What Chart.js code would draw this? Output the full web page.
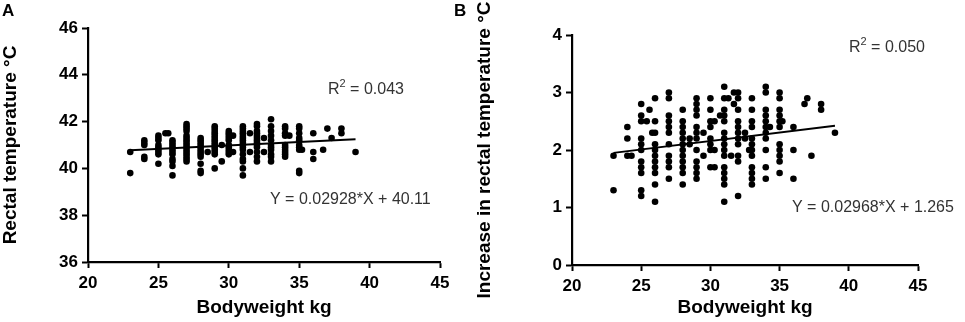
<!DOCTYPE html>
<html>
<head>
<meta charset="utf-8">
<script src="https://cdn.jsdelivr.net/npm/chart.js@4"></script>
<style>
  body { margin: 0; background: #fff; }
  #wrap { position: relative; width: 965px; height: 322px; overflow: hidden; }
  canvas { position: absolute; top: 0; }
  .tag { position: absolute; top: 2px; font: bold 17px "Liberation Sans", Arial, sans-serif; line-height: 17px; color: #000; }
</style>
</head>
<body>
<div id="wrap">
  <canvas id="chartA" width="465" height="322" style="left:0"></canvas>
  <canvas id="chartB" width="500" height="322" style="left:465px"></canvas>
  <div class="tag" style="left:2px">A</div>
  <div class="tag" style="left:454px">B</div>
</div>
<script>
// panel A: bodyweight (kg) columns and rectal temperature readings at each
const weightsA = [23, 24, 25, 25.5, 25.7, 26, 27, 28, 28.5, 29, 29.5, 30, 30.3, 31, 31.5, 32, 32.5, 33, 34, 34.3, 35, 35.2, 36, 36.7, 37, 37.3, 38, 39];
const tempsA = [
  [40.7, 39.8],
  [41.2, 41.1, 41.0, 40.5, 40.4],
  [41.4, 41.3, 41.2, 41.0, 40.9, 40.8, 40.7, 40.6, 40.2],
  [41.5],
  [41.5],
  [41.2, 41.1, 41.0, 40.9, 40.8, 40.7, 40.6, 40.4, 40.3, 40.1, 39.7],
  [41.9, 41.8, 41.7, 41.6, 41.4, 41.3, 41.2, 41.1, 41.0, 40.9, 40.8, 40.7, 40.6, 40.5, 40.4, 40.3],
  [41.3, 41.2, 41.1, 41.0, 40.9, 40.8, 40.7, 40.6, 40.5, 40.2, 39.9, 39.8],
  [40.7],
  [41.8, 41.7, 41.6, 41.5, 41.4, 41.3, 41.2, 41.1, 41.0, 40.9, 40.8, 40.7, 40.6, 40.0],
  [41.0, 40.3],
  [41.6, 41.5, 41.4, 41.3, 41.2, 41.0, 40.9, 40.8, 40.7, 40.6],
  [41.4, 40.7],
  [41.8, 41.7, 41.6, 41.5, 41.4, 41.3, 41.2, 41.1, 41.0, 40.9, 40.8, 40.6, 40.4, 40.3, 40.0, 39.7],
  [41.5, 40.7],
  [41.9, 41.8, 41.6, 41.5, 41.4, 41.3, 41.2, 41.1, 41.0, 40.9, 40.7, 40.5, 40.3],
  [41.3, 40.7],
  [42.1, 41.8, 41.6, 41.4, 41.2, 41.0, 40.9, 40.8, 40.6, 40.5, 40.3],
  [41.8, 41.7, 41.5, 41.4, 41.0, 40.9, 40.8, 40.7, 40.6, 40.5],
  [41.4],
  [41.8, 41.7, 41.5, 41.3, 41.2, 41.0, 40.9, 40.8, 39.9, 39.8],
  [40.8],
  [41.5, 40.7, 40.4],
  [40.8],
  [41.7],
  [41.3],
  [41.7, 41.5],
  [40.7]
];
const fitXA = [23, 39];
const fitYA = [40.78, 41.25];

// panel B: bodyweight (kg) columns and increase in rectal temperature
const weightsB = [23, 24, 24.3, 25, 25.4, 25.6, 25.8, 26, 27, 28, 28.5, 29, 29.5, 30, 30.3, 30.7, 31, 31.3, 31.5, 31.7, 32, 32.5, 32.8, 33, 34, 34.3, 35, 35.2, 36, 36.8, 37, 37.3, 38, 39];
const risesB = [
  [1.9, 1.3],
  [2.4, 2.2, 1.9],
  [1.9],
  [2.8, 2.6, 2.5, 2.2, 2.1, 2.0, 1.8, 1.7, 1.6, 1.3, 1.2],
  [2.5],
  [2.7],
  [2.3],
  [2.9, 2.5, 2.3, 2.1, 2.0, 1.9, 1.8, 1.7, 1.6, 1.4, 1.1],
  [3.0, 2.9, 2.6, 2.5, 2.4, 2.3, 2.1, 1.9, 1.8, 1.7, 1.5],
  [2.7, 2.5, 2.4, 2.3, 2.2, 2.1, 2.0, 1.9, 1.8, 1.7, 1.6, 1.4],
  [2.2, 2.1],
  [2.9, 2.8, 2.7, 2.6, 2.4, 2.3, 2.2, 2.0, 1.8, 1.7, 1.6, 1.5],
  [2.3, 1.9],
  [2.9, 2.7, 2.5, 2.4, 2.2, 2.1, 2.0, 1.7],
  [2.5, 2.0, 1.7],
  [2.6],
  [3.1, 2.9, 2.7, 2.6, 2.5, 2.3, 2.2, 2.1, 2.0, 1.9, 1.7, 1.6, 1.5, 1.4, 1.1],
  [2.9],
  [1.9],
  [3.0, 2.8],
  [3.0, 2.9, 2.7, 2.5, 2.4, 2.3, 2.2, 2.1, 1.9, 1.8, 1.2],
  [2.3, 2.2],
  [2.0],
  [2.9, 2.7, 2.5, 2.4, 2.2, 2.1, 2.0, 1.9, 1.7, 1.6, 1.5, 1.4],
  [3.1, 3.0, 2.7, 2.6, 2.5, 2.4, 2.3, 2.2, 2.0, 1.7, 1.5],
  [2.4],
  [3.0, 2.9, 2.7, 2.6, 2.5, 2.4, 2.1, 2.0, 1.9, 1.8, 1.6],
  [2.5],
  [2.4, 2.0, 1.5],
  [2.8],
  [2.9],
  [1.9],
  [2.8, 2.7],
  [2.3]
];
const fitXB = [23, 39];
const fitYB = [1.95, 2.42];

const FONT = '"Liberation Sans", Arial, sans-serif';

const toPoints = (xs, groups) => xs.flatMap((x, i) => groups[i].map(y => ({ x, y })));
const toLine = (xs, ys) => xs.map((x, i) => ({ x, y: ys[i] }));

// draws the R² and equation labels; `sup` is drawn as a superscript after `text`
const notesPlugin = {
  id: 'notes',
  afterDraw(chart, args, opts) {
    const ctx = chart.ctx;
    ctx.save();
    ctx.fillStyle = '#333';
    ctx.textBaseline = 'middle';
    ctx.textAlign = 'left';
    (opts.items || []).forEach(n => {
      let x = n.x;
      ctx.font = '16px ' + FONT;
      ctx.fillText(n.text, x, n.y);
      x += ctx.measureText(n.text).width;
      if (n.sup) {
        ctx.font = '11px ' + FONT;
        ctx.fillText(n.sup, x, n.y - 6);
        x += ctx.measureText(n.sup).width;
        ctx.font = '16px ' + FONT;
        ctx.fillText(n.rest, x, n.y);
      }
    });
    ctx.restore();
  }
};

function makeChart(id, points, line, box) {
  const axisStyle = {
    border: { display: true, color: '#000', width: 2.2 },
    grid: { drawOnChartArea: false, drawTicks: true, tickLength: 6, tickWidth: 2, tickColor: '#000', color: '#000' },
  };
  const tickFont = { family: FONT, size: 17, weight: 'bold' };
  const titleFont = { family: FONT, size: 19, weight: 'bold', lineHeight: 1.1 };
  return new Chart(document.getElementById(id), {
    type: 'scatter',
    data: {
      datasets: [
        {
          data: points,
          backgroundColor: '#000',
          borderWidth: 0,
          pointRadius: 3.3,
        },
        {
          data: line,
          showLine: true,
          borderColor: '#000',
          borderWidth: 2,
          pointRadius: 0,
          fill: false
        }
      ]
    },
    options: {
      responsive: false,
      animation: false,
      layout: { padding: { left: 0, right: box.right, top: box.top, bottom: 0 } },
      plugins: {
        legend: { display: false },
        tooltip: { enabled: false },
        notes: { items: box.notes }
      },
      scales: {
        x: {
          ...axisStyle,
          min: 20, max: 45,
          ticks: { stepSize: 5, color: '#000', padding: 5, font: tickFont },
          title: { display: true, text: 'Bodyweight kg', color: '#000', padding: { top: 0, bottom: 3.5 }, font: titleFont },
          afterFit: s => { s.height = 322 - box.bottom; }
        },
        y: {
          ...axisStyle,
          min: box.ymin, max: box.ymax,
          ticks: { stepSize: box.ystep, color: '#000', padding: 4, font: tickFont },
          title: { display: true, text: box.ytitle, color: '#000', padding: { top: box.titlePad, bottom: 0 }, font: titleFont },
          afterFit: s => { s.width = box.left; }
        }
      }
    },
    plugins: [notesPlugin]
  });
}

makeChart('chartA', toPoints(weightsA, tempsA), toLine(fitXA, fitYA), {
  left: 88, right: 25, top: 28, bottom: 262,
  ymin: 36, ymax: 46, ystep: 2, titlePad: 0,
  ytitle: 'Rectal temperature °C',
  notes: [
    { text: 'R', sup: '2', rest: ' = 0.043', x: 328, y: 90 },
    { text: 'Y = 0.02928*X + 40.11', x: 270, y: 200 }
  ]
});

makeChart('chartB', toPoints(weightsB, risesB), toLine(fitXB, fitYB), {
  left: 107, right: 47, top: 35, bottom: 265,
  ymin: 0, ymax: 4, ystep: 1, titlePad: 9,
  ytitle: 'Increase in rectal temperature °C',
  notes: [
    { text: 'R', sup: '2', rest: ' = 0.050', x: 384, y: 48 },
    { text: 'Y = 0.02968*X + 1.265', x: 327, y: 208 }
  ]
});
</script>
</body>
</html>
